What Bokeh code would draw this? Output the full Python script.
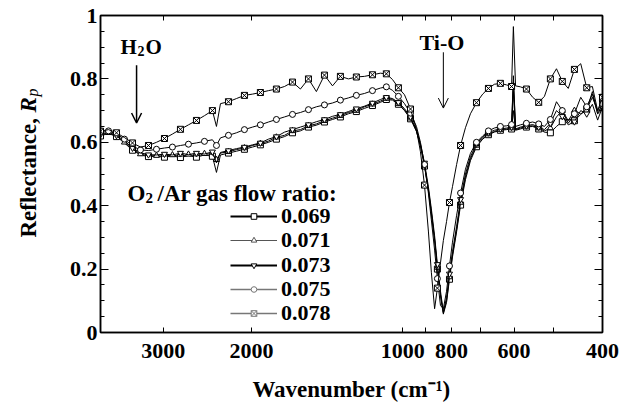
import math
import numpy as np
from bokeh.plotting import figure
from bokeh.layouts import row
from bokeh.models import (Range1d, FixedTicker, LogAxis, LinearAxis, CustomJSTickFormatter,
                          Label, Legend, LegendItem, Arrow, OpenHead)
from bokeh.embed import file_html
from bokeh.resources import INLINE

FONT = "Liberation Serif"

# ---------------- data ----------------
WAVENUMBER = [4000, 3856, 3717, 3584, 3454, 3330, 3210, 3094, 2983, 2876,
              2772, 2672, 2576, 2483, 2394, 2350, 2307, 2224, 2144, 2067,
              1992, 1921, 1851, 1785, 1720, 1658, 1599, 1541, 1486, 1432,
              1380, 1331, 1283, 1237, 1192, 1149, 1108, 1078, 1048, 1020,
              992, 965, 939, 922, 905, 889, 877, 864, 853, 841,
              830, 818, 807, 796, 781, 767, 750, 733, 713, 693,
              675, 657, 639, 621, 607, 602, 596, 583, 567, 551,
              536, 522, 508, 494, 481, 468, 455, 442, 430, 419,
              409, 400]

R_069 = [0.620, 0.628, 0.618, 0.598, 0.575, 0.560, 0.555, 0.556, 0.553, 0.557,
         0.552, 0.558, 0.553, 0.560, 0.556, 0.505, 0.560, 0.566, 0.572, 0.578,
         0.585, 0.592, 0.600, 0.610, 0.618, 0.630, 0.636, 0.648, 0.654, 0.664,
         0.672, 0.680, 0.690, 0.697, 0.707, 0.716, 0.726, 0.735, 0.733, 0.720,
         0.700, 0.674, 0.634, 0.588, 0.525, 0.448, 0.375, 0.290, 0.200, 0.115,
         0.058, 0.095, 0.168, 0.238, 0.318, 0.402, 0.482, 0.542, 0.586, 0.610,
         0.624, 0.632, 0.638, 0.640, 0.642, 0.700, 0.638, 0.642, 0.648, 0.650,
         0.642, 0.632, 0.630, 0.650, 0.665, 0.672, 0.668, 0.688, 0.705, 0.742,
         0.700, 0.728]

R_071 = [0.622, 0.630, 0.620, 0.600, 0.578, 0.563, 0.557, 0.558, 0.556, 0.560,
         0.555, 0.562, 0.556, 0.564, 0.562, 0.545, 0.566, 0.570, 0.577, 0.582,
         0.590, 0.596, 0.604, 0.616, 0.622, 0.636, 0.640, 0.652, 0.658, 0.668,
         0.676, 0.684, 0.694, 0.700, 0.712, 0.720, 0.730, 0.738, 0.736, 0.722,
         0.702, 0.676, 0.636, 0.590, 0.528, 0.452, 0.380, 0.295, 0.205, 0.120,
         0.062, 0.100, 0.175, 0.245, 0.325, 0.410, 0.490, 0.548, 0.590, 0.612,
         0.626, 0.634, 0.640, 0.642, 0.645, 0.760, 0.640, 0.645, 0.650, 0.652,
         0.645, 0.636, 0.645, 0.680, 0.700, 0.668, 0.700, 0.690, 0.700, 0.760,
         0.690, 0.705]

R_073 = [0.625, 0.632, 0.622, 0.604, 0.582, 0.567, 0.561, 0.560, 0.563, 0.560,
         0.566, 0.561, 0.566, 0.563, 0.570, 0.535, 0.568, 0.574, 0.580, 0.585,
         0.592, 0.598, 0.610, 0.618, 0.632, 0.640, 0.648, 0.656, 0.665, 0.672,
         0.682, 0.688, 0.697, 0.706, 0.714, 0.724, 0.735, 0.742, 0.738, 0.726,
         0.706, 0.680, 0.640, 0.595, 0.535, 0.460, 0.390, 0.305, 0.215, 0.130,
         0.065, 0.110, 0.185, 0.255, 0.335, 0.420, 0.500, 0.555, 0.595, 0.617,
         0.630, 0.638, 0.642, 0.645, 0.648, 0.810, 0.642, 0.648, 0.652, 0.656,
         0.648, 0.640, 0.660, 0.700, 0.682, 0.655, 0.665, 0.700, 0.690, 0.720,
         0.670, 0.712]

R_075 = [0.630, 0.636, 0.626, 0.610, 0.588, 0.576, 0.574, 0.578, 0.582, 0.585,
         0.590, 0.594, 0.598, 0.603, 0.608, 0.590, 0.614, 0.622, 0.630, 0.640,
         0.648, 0.655, 0.664, 0.672, 0.680, 0.688, 0.694, 0.703, 0.712, 0.718,
         0.724, 0.733, 0.740, 0.748, 0.754, 0.763, 0.771, 0.775, 0.764, 0.745,
         0.722, 0.692, 0.650, 0.600, 0.530, 0.440, 0.355, 0.260, 0.170, 0.085,
         0.075, 0.130, 0.210, 0.285, 0.370, 0.440, 0.515, 0.565, 0.600, 0.620,
         0.636, 0.645, 0.650, 0.652, 0.656, 0.790, 0.650, 0.655, 0.660, 0.664,
         0.658, 0.650, 0.672, 0.728, 0.700, 0.660, 0.690, 0.742, 0.712, 0.752,
         0.690, 0.722]

R_078 = [0.635, 0.640, 0.630, 0.615, 0.598, 0.585, 0.590, 0.600, 0.612, 0.626,
         0.641, 0.655, 0.669, 0.684, 0.700, 0.650, 0.722, 0.728, 0.738, 0.748,
         0.752, 0.757, 0.763, 0.768, 0.776, 0.790, 0.768, 0.800, 0.760, 0.812,
         0.778, 0.808, 0.800, 0.806, 0.808, 0.813, 0.818, 0.816, 0.798, 0.772,
         0.750, 0.705, 0.640, 0.570, 0.465, 0.320, 0.190, 0.075, 0.140, 0.220,
         0.290, 0.350, 0.410, 0.460, 0.530, 0.590, 0.646, 0.690, 0.725, 0.752,
         0.770, 0.783, 0.786, 0.781, 0.776, 0.965, 0.778, 0.775, 0.768, 0.742,
         0.726, 0.745, 0.800, 0.832, 0.792, 0.770, 0.830, 0.848, 0.772, 0.776,
         0.700, 0.742]

SERIES = [R_069, R_071, R_073, R_075, R_078]
LABELS = ["0.069", "0.071", "0.073", "0.075", "0.078"]
MARKERS = ["square", "triangle", "inverted_triangle", "circle", "square_x"]
LEGEND_COLORS = ["black", "#555555", "black", "#777777", "#777777"]
LEGEND_WIDTHS = [2, 1, 2, 1.5, 1.5]
LEGEND_ROW_OFFSETS = [103, 79, 54, 30, 6]   # px above the frame bottom, one per row

X_TICKS = [3000, 2000, 1000, 800, 600, 400]
X_MINOR = [900, 700, 500]
Y_TICKS = [0, 0.2, 0.4, 0.6, 0.8, 1]
Y_MINOR = [0.05, 0.1, 0.15, 0.25, 0.3, 0.35, 0.45, 0.5, 0.55, 0.65, 0.7, 0.75, 0.85, 0.9, 0.95]

H2O_ARROW = (3390, 0.843, 0.661)
TIO_ARROW = (830, 0.884, 0.708)

# ---------------- main figure ----------------
p = figure(width=589, height=404, x_axis_type="log",
           x_range=Range1d(4000, 400), y_range=Range1d(0, 1),
           output_backend="svg", toolbar_location=None, title=None,
           min_border_left=55, min_border_right=32, min_border_top=15,
           min_border_bottom=70)
p.grid.visible = False
p.outline_line_color = "black"
p.outline_line_width = 1.5
p.background_fill_color = "white"
p.border_fill_color = "white"

fmt = CustomJSTickFormatter(code="return String(tick)")
blank = CustomJSTickFormatter(code="return ''")

def style_axis(ax, labels=True, major_in=6, minor_in=3):
    ax.axis_line_color = "black"
    ax.axis_line_width = 1.5
    ax.major_tick_in = major_in
    ax.major_tick_out = 0
    ax.minor_tick_in = minor_in
    ax.minor_tick_out = 0
    ax.major_tick_line_color = "black"
    ax.minor_tick_line_color = "black"
    ax.major_tick_line_width = 1
    ax.minor_tick_line_width = 1
    if labels:
        ax.formatter = fmt
        ax.major_label_text_font = FONT
        ax.major_label_text_font_style = "bold"
        ax.major_label_text_font_size = "22px"
        ax.major_label_text_color = "black"
    else:
        ax.formatter = blank
        ax.major_label_text_font_size = "1px"
        ax.major_label_standoff = 0

xticker = FixedTicker(ticks=X_TICKS, minor_ticks=X_MINOR)
yticker = FixedTicker(ticks=Y_TICKS, minor_ticks=Y_MINOR)

p.xaxis.ticker = xticker
p.yaxis.ticker = yticker
style_axis(p.xaxis[0], major_in=5, minor_in=5)
style_axis(p.yaxis[0], major_in=8, minor_in=4)
p.xaxis[0].major_label_standoff = 11
p.yaxis[0].major_label_standoff = 3

xa = p.xaxis[0]
xa.axis_label = "Wavenumber (cm\u207b\u00b9)"
xa.axis_label_text_font = FONT
xa.axis_label_text_font_style = "bold"
xa.axis_label_text_font_size = "23px"
xa.axis_label_text_color = "black"
xa.axis_label_standoff = 16

top = LogAxis(ticker=xticker)
style_axis(top, labels=False, major_in=5, minor_in=5)
p.add_layout(top, "above")
right = LinearAxis(ticker=yticker)
style_axis(right, labels=False, major_in=8, minor_in=4)
p.add_layout(right, "right")

# ---------------- curves ----------------
w = np.array(WAVENUMBER, dtype=float)
lw = np.log10(w)
for k, (vals, mk) in enumerate(zip(SERIES, MARKERS)):
    r = np.array(vals)
    keep, last = [], None
    for i in range(k % 2, len(w)):
        if last is None or abs(lw[i] - last) > 0.022:
            keep.append(i)
            last = lw[i]
    p.line(w, r, line_color="black", line_width=1)
    p.scatter(w[keep], r[keep], marker=mk, size=6, fill_color="white",
              line_color="black", line_width=1)

# ---------------- legend (one single-row legend per entry, for exact row pitch) ----------------
for lab_, mk, col, lwid, off in zip(LABELS, MARKERS, LEGEND_COLORS, LEGEND_WIDTHS,
                                     LEGEND_ROW_OFFSETS):
    r1 = p.line(x=[np.nan], y=[np.nan], line_color=col, line_width=lwid)
    r2 = p.scatter(x=[np.nan], y=[np.nan], marker=mk, size=6, fill_color="white",
                   line_color=col)
    leg = Legend(items=[LegendItem(label=lab_, renderers=[r1, r2])],
                 location=(130, off), glyph_width=47, glyph_height=14,
                 label_height=14, label_standoff=4, spacing=0, padding=0, margin=0,
                 border_line_color=None, background_fill_alpha=0,
                 label_text_font=FONT, label_text_font_style="bold",
                 label_text_font_size="22px", label_text_color="black")
    p.add_layout(leg)

def lab(fig, text, x, y, size="22px", style="bold", angle=0):
    fig.add_layout(Label(x=x, y=y, x_units="screen", y_units="screen", text=text,
                         text_font=FONT, text_font_style=style, text_font_size=size,
                         text_color="black", text_align="left",
                         text_baseline="alphabetic", angle=angle))

# legend title (frame-relative screen coords, origin at frame bottom-left)
lab(p, "O", 27, 139, size="23px")
lab(p, "2", 45, 135, size="15px")
lab(p, "/Ar gas flow ratio:", 57, 139, size="23px")

# annotations
lab(p, "H", 20, 286, size="21px")
lab(p, "2", 37, 282, size="14px")
lab(p, "O", 45, 286, size="21px")
lab(p, "Ti-O", 319, 290, size="22px")

p.add_layout(Arrow(end=OpenHead(size=10, line_width=1.5, line_color="black"),
                   x_start=H2O_ARROW[0], y_start=H2O_ARROW[1],
                   x_end=H2O_ARROW[0], y_end=H2O_ARROW[2],
                   line_width=1.5, line_color="black"))
p.add_layout(Arrow(end=OpenHead(size=10, line_width=1, line_color="black"),
                   x_start=TIO_ARROW[0], y_start=TIO_ARROW[1],
                   x_end=TIO_ARROW[0], y_end=TIO_ARROW[2],
                   line_width=1, line_color="black"))

# ---------------- y-title strip (its frame is aligned with the main frame) ----------------
ys = figure(width=45, height=404, x_range=Range1d(0, 45), y_range=Range1d(0, 404),
            output_backend="svg", toolbar_location=None, title=None,
            min_border_left=0, min_border_right=0, min_border_top=0, min_border_bottom=0,
            x_axis_location=None, y_axis_location=None, outline_line_color=None)
ys.grid.visible = False
ys.border_fill_color = "white"
lab(ys, "Reflectance, ", 28, 95, size="23px", angle=math.pi / 2)
lab(ys, "R", 28, 220, size="23px", style="bold italic", angle=math.pi / 2)
lab(ys, "p", 32, 236, size="16px", style="italic", angle=math.pi / 2)

layout = row(ys, p)
open("out.html", "w").write(file_html(layout, INLINE))
